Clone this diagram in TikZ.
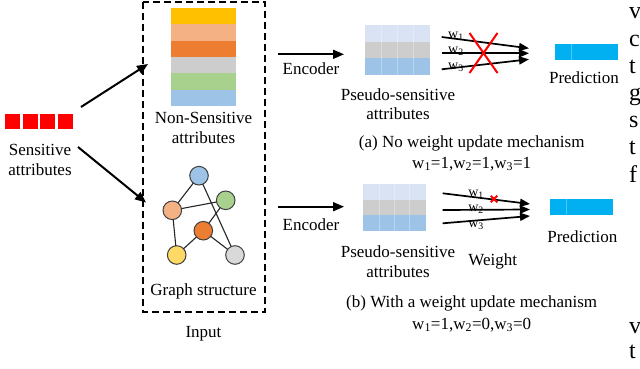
\documentclass[tikz,border=0pt]{standalone}
\usepackage{fontspec}
\setmainfont{Liberation Serif}
\usetikzlibrary{arrows.meta,shapes.misc}
\definecolor{cGold}{HTML}{FFC000}
\definecolor{cPeach}{HTML}{F4B183}
\definecolor{cOrange}{HTML}{ED7D31}
\definecolor{cGray}{HTML}{CDCDCD}
\definecolor{cGreen}{HTML}{A9D18E}
\definecolor{cBlue}{HTML}{9DC3E6}
\definecolor{cPale}{HTML}{DAE3F3}
\definecolor{cYellow}{HTML}{FFD966}
\definecolor{cLGray}{HTML}{D9D9D9}
\definecolor{cPred}{HTML}{00B0F0}
\definecolor{cSens}{HTML}{FF0000}
\begin{document}
\begin{tikzpicture}[x=1pt,y=-1pt,
  every node/.style={font=\fontsize{17}{19.5}\selectfont, inner sep=0pt, outer sep=0pt},
  sq/.style={fill=cSens, minimum width=15pt, minimum height=15pt},
  nsbar/.style={minimum width=65pt, minimum height=16.4pt},
  psbarA/.style={minimum width=65pt, minimum height=16.6pt},
  psbarB/.style={minimum width=63pt, minimum height=15.7pt},
  predbar/.style={fill=cPred, minimum width=63pt, minimum height=15.6pt},
  gnode/.style={circle, draw=black!75, line width=1pt, minimum size=18.6pt},
  gedge/.style={line width=1.1pt, black!85},
  bigarrow/.style={line width=2pt, -{Triangle[length=11pt,width=9pt]}},
  warrow/.style={line width=1.7pt, -{Triangle[length=10pt,width=8pt]}},
  wlabel/.style={font=\fontsize{14}{16}\selectfont},
  cellline/.style={white, opacity=0.3, line width=0.5pt},
  edge text/.style={font=\fontsize{24}{26}\selectfont, anchor=base west}
]
\useasboundingbox (0,0) rectangle (640,369);
\clip (0,0) rectangle (640,369);

% Sensitive attributes
\node[sq] (s1) at (12.7,121.5) {};
\node[sq] (s2) at (30.2,121.5) {};
\node[sq] (s3) at (47.7,121.5) {};
\node[sq] (s4) at (65.2,121.5) {};
\node[align=center] (sens) at (40,160) {Sensitive\\attributes};

% Input box
\draw[line width=1.5pt, dash pattern=on 7pt off 4pt] (143,2) rectangle (265,312);
\node (input) at (203.5,334) {Input};

% Non-sensitive stack
\node[nsbar, fill=cGold]   (ns1) at (203.5,16.2) {};
\node[nsbar, fill=cPeach]  (ns2) at (203.5,32.5) {};
\node[nsbar, fill=cOrange] (ns3) at (203.5,48.8) {};
\node[nsbar, fill=cGray]   (ns4) at (203.5,65.2) {};
\node[nsbar, fill=cGreen]  (ns5) at (203.5,81.5) {};
\node[nsbar, fill=cBlue]   (ns6) at (203.5,97.8) {};
\node[align=center] (nslab) at (203.5,128) {Non-Sensitive\\attributes};

% Graph structure
\node[gnode, fill=cBlue]   (gb) at (199,175.7) {};
\node[gnode, fill=cGreen]  (gg) at (225.7,200.3) {};
\node[gnode, fill=cPeach]  (gp) at (172.3,210.3) {};
\node[gnode, fill=cOrange] (go) at (203.3,230.7) {};
\node[gnode, fill=cYellow] (gy) at (176.7,255) {};
\node[gnode, fill=cLGray]  (gl) at (235,255) {};
\draw[gedge] (gb) -- (gp);
\draw[gedge] (gb) -- (gl);
\draw[gedge] (gp) -- (gg);
\draw[gedge] (gp) -- (gy);
\draw[gedge] (gy) -- (go);
\draw[gedge] (go) -- (gg);
\draw[gedge] (go) -- (gl);
\node (glab) at (203.5,291) {Graph structure};

% Arrows from sensitive attributes
\coordinate (upS) at (81,107);
\coordinate (upE) at (148,64);
\coordinate (loS) at (78,147);
\coordinate (loE) at (146,202.5);
\draw[bigarrow] (upS) -- (upE);
\draw[bigarrow] (loS) -- (loE);

% ---------- (a) ----------
\coordinate (encAS) at (278,54.3);
\coordinate (encAE) at (344,54.3);
\draw[bigarrow, line width=1.8pt] (encAS) -- (encAE);
\node (encA) at (311,68.5) {Encoder};

\node[psbarA, fill=cPale] (pa1) at (397.5,33.6) {};
\node[psbarA, fill=cGray]  (pa2) at (397.5,50.2) {};
\node[psbarA, fill=cBlue] (pa3) at (397.5,66.7) {};
\foreach \xx in {381.5,397.5,413.5} \draw[cellline] (\xx,25.3) -- (\xx,75);
\node[align=center] (pseudoA) at (398,104) {Pseudo-sensitive\\attributes};

\coordinate (wa1s) at (441.7,37);
\coordinate (wa2s) at (441.7,53.3);
\coordinate (wa3s) at (441.7,69.3);
\coordinate (wa1e) at (529,48.3);
\coordinate (wa2e) at (529,53.3);
\coordinate (wa3e) at (529,59.3);
\draw[warrow] (wa1s) -- (wa1e);
\draw[warrow] (wa2s) -- (wa2e);
\draw[warrow] (wa3s) -- (wa3e);
\node[wlabel] (wa1) at (456,36) {w\textsubscript{1}};
\node[wlabel] (wa2) at (456,51.5) {w\textsubscript{2}};
\node[wlabel] (wa3) at (456,67) {w\textsubscript{3}};
\node[cross out, draw=red, line width=2pt, minimum width=28pt, minimum height=40pt] (xa) at (483.5,53) {};

\node[predbar, minimum width=62.7pt] (predbA) at (586.3,52.2) {};
\draw[cellline] (571.7,44.4) -- (571.7,60);
\node (predA) at (584,77.5) {Prediction};

\node (captA) at (471.7,143) {(a) No weight update mechanism};
\node (eqA) at (471.7,164) {w\textsubscript{1}=1,w\textsubscript{2}=1,w\textsubscript{3}=1};

% ---------- (b) ----------
\coordinate (encBS) at (278,206.7);
\coordinate (encBE) at (344,206.7);
\draw[bigarrow, line width=1.8pt] (encBS) -- (encBE);
\node (encB) at (311,224.5) {Encoder};

\node[psbarB, fill=cPale] (pb1) at (394.2,191.8) {};
\node[psbarB, fill=cGray]  (pb2) at (394.2,207.5) {};
\node[psbarB, fill=cBlue] (pb3) at (394.2,223.2) {};
\foreach \xx in {379.7,394.7,409.7} \draw[cellline] (\xx,184) -- (\xx,231);
\node[align=center] (pseudoB) at (398,261.5) {Pseudo-sensitive\\attributes};

\coordinate (wb1s) at (442.7,193.3);
\coordinate (wb2s) at (442.7,210);
\coordinate (wb3s) at (442.7,223.3);
\coordinate (wb1e) at (530,204);
\coordinate (wb2e) at (530,209.5);
\coordinate (wb3e) at (530,216);
\draw[warrow] (wb1s) -- (wb1e);
\draw[warrow] (wb2s) -- (wb2e);
\draw[warrow] (wb3s) -- (wb3e);
\node[wlabel] (wb1) at (476,194) {w\textsubscript{1}};
\node[wlabel] (wb2) at (476,209) {w\textsubscript{2}};
\node[wlabel] (wb3) at (476,225) {w\textsubscript{3}};
\node[cross out, draw=red, line width=2pt, minimum size=6.5pt] (xb) at (494,199) {};
\node (weight) at (492.7,261.5) {Weight};

\node[predbar] (predbB) at (581.7,206.7) {};
\draw[cellline] (566.5,199) -- (566.5,214.4);
\node (predB) at (582.3,237) {Prediction};

\node (captB) at (471.7,303.5) {(b) With a weight update mechanism};
\node (eqB) at (471.7,325) {w\textsubscript{1}=1,w\textsubscript{2}=0,w\textsubscript{3}=0};

% clipped text of neighbouring column
\node[edge text] (r1) at (629,18.5) {v};
\node[edge text] (r2) at (629,46.5) {c};
\node[edge text] (r3) at (629,73.5) {t};
\node[edge text] (r4) at (629,100) {g};
\node[edge text] (r5) at (629,127.5) {s};
\node[edge text] (r6) at (629,154) {t};
\node[edge text] (r7) at (629,182) {f};
\node[edge text] (r8) at (629,333) {v};
\node[edge text] (r9) at (629,358) {t};
\end{tikzpicture}
\end{document}
